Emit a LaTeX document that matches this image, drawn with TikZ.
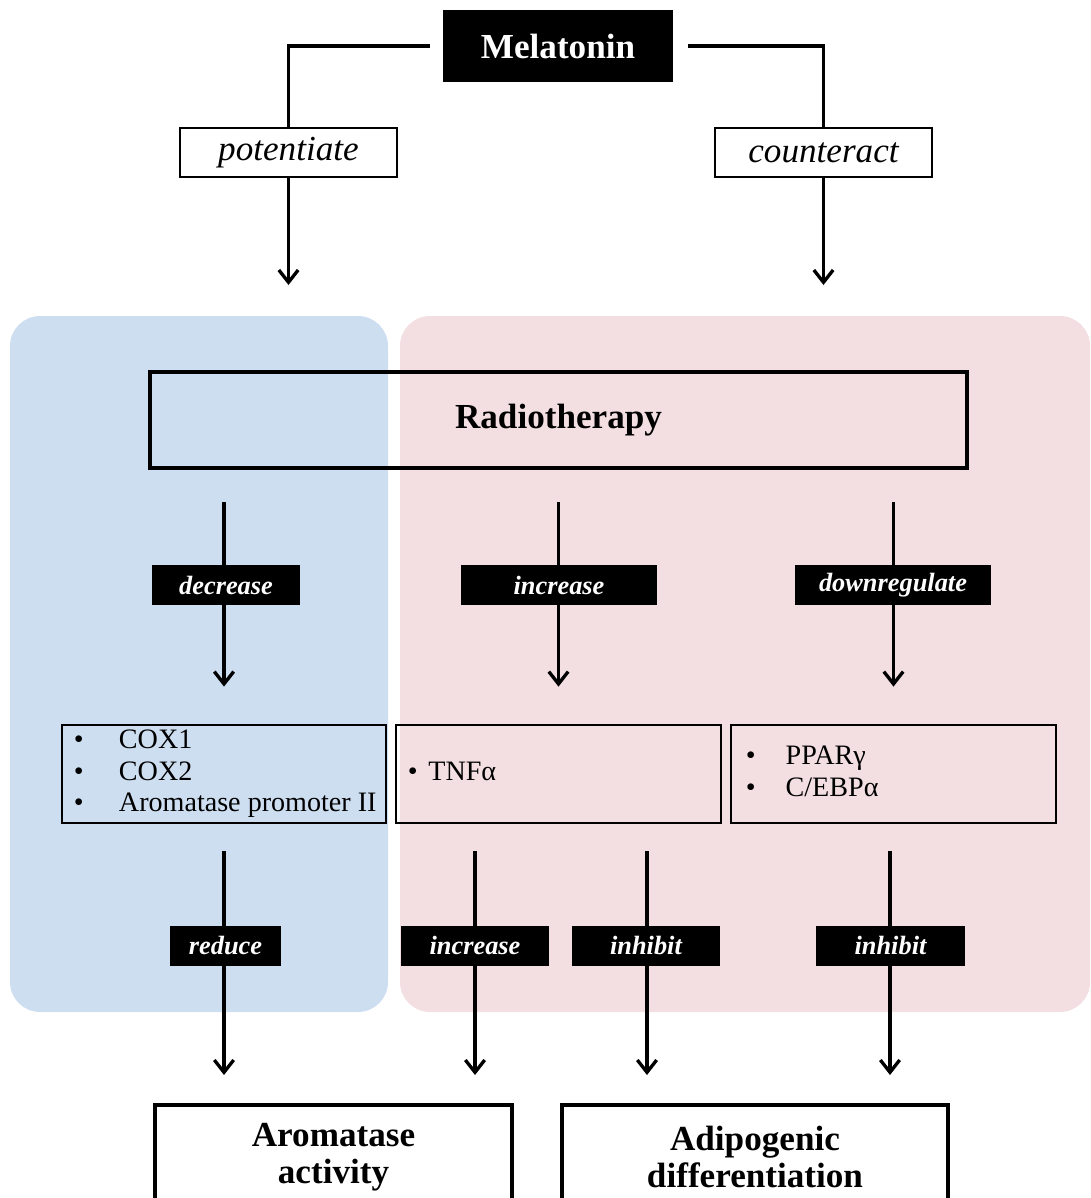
\documentclass[tikz,border=0pt]{standalone}
\usepackage{fontspec}
\setmainfont{Liberation Serif}
\usetikzlibrary{arrows.meta}
\definecolor{bluebg}{RGB}{206,222,241}
\definecolor{pinkbg}{RGB}{243,223,225}
\begin{document}
\begin{tikzpicture}[x=0.02cm, y=-0.02cm,
  arr/.style={line width=1.9pt, -{Straight Barb[length=7pt,width=11pt]}},
  tag/.style={fill=black, text=white, inner sep=0pt, minimum height=0.8cm, font=\fontsize{15}{18}\selectfont\bfseries\itshape},
  lst/.style={draw, line width=1.6pt, minimum height=1.96cm, inner sep=0pt},
  lsttxt/.style={anchor=west, inner sep=0pt, font=\fontsize{16}{18}\selectfont},
  big/.style={font=\fontsize{20}{21}\selectfont\bfseries}]
\useasboundingbox (0,0) rectangle (1090,1198);
% backgrounds
\fill[bluebg, rounded corners=0.6cm] (10,316) rectangle (388,1012);
\fill[pinkbg, rounded corners=0.6cm] (400,316) rectangle (1090,1012);
% top
\node[big, fill=black, text=white, minimum width=4.6cm, minimum height=1.44cm, inner sep=0pt] (mel) at (558,46) {Melatonin};
\node[draw, line width=1.4pt, fill=white, minimum width=4.34cm, minimum height=0.98cm, inner sep=0pt, font=\fontsize{20}{23}\selectfont\itshape] (pot) at (288.5,152.5) {potentiate};
\node[draw, line width=1.4pt, fill=white, minimum width=4.34cm, minimum height=0.98cm, inner sep=0pt, font=\fontsize{20}{23}\selectfont\itshape] (cnt) at (823.5,152.5) {counteract};
\draw[line width=1.9pt] ([xshift=-0.26cm]mel.west) -| (pot.north); \draw[line width=1.9pt] ([xshift=0.3cm]mel.east) -| (cnt.north);
\coordinate (pa) at (288.5,285); \coordinate (ca) at (823.5,285);
\draw[arr] (pot.south) -- (pa); \draw[arr] (cnt.south) -- (ca);
% radiotherapy
\node[draw, line width=2.3pt, big, minimum width=16.34cm, minimum height=1.92cm, inner sep=0pt] (rad) at (558.5,420) {Radiotherapy};
\node[lst, minimum width=6.48cm] (l1) at (224,774) {};
\node[lst, minimum width=6.5cm] (l2) at (558.5,774) {};
\node[lst, minimum width=6.5cm] (l3) at (893.5,774) {};
\node[lsttxt] (t1) at ([xshift=0.26cm]l1.west) {\begin{tabular}{@{}l@{\hspace{20pt}}l@{}}\textbullet & COX1\\ \textbullet & COX2\\ \textbullet & Aromatase promoter II\end{tabular}};
\node[lsttxt] (t2) at ([xshift=0.26cm]l2.west) {\begin{tabular}{@{}l@{\hspace{6pt}}l@{}}\textbullet & TNFα\end{tabular}};
\node[lsttxt] (t3) at ([xshift=0.32cm]l3.west) {\begin{tabular}{@{}l@{\hspace{17pt}}l@{}}\textbullet & PPARγ\\ \textbullet & C/EBPα\end{tabular}};
\draw[arr, shorten <=0.64cm, shorten >=0.74cm] (rad.south -| l1.north) -- (l1.north);
\draw[arr, shorten <=0.64cm, shorten >=0.74cm] (rad.south -| l2.north) -- (l2.north);
\draw[arr, shorten <=0.64cm, shorten >=0.74cm] (rad.south -| l3.north) -- (l3.north);
\node[tag, minimum width=2.96cm] (dec) at (226,585) {decrease};
\node[tag, minimum width=3.92cm] (inc) at (559,585) {increase};
\node[tag, minimum width=3.92cm] (dwn) at (893,585) {downregulate};
% outcomes
\node[draw, line width=2.3pt, big, minimum width=7.14cm, minimum height=2.08cm, align=center, anchor=north] (aro) at (333.5,1103) {Aromatase\\activity};
\node[draw, line width=2.3pt, big, minimum width=7.72cm, minimum height=2.08cm, align=center, anchor=north] (adi) at (755,1103) {Adipogenic\\differentiation};
\coordinate (u1) at (l1.south); \coordinate (u2) at ([xshift=-1.67cm]l2.south); \coordinate (u3) at ([xshift=1.77cm]l2.south); \coordinate (u4) at ([xshift=-0.07cm]l3.south);
\draw[arr, shorten <=0.54cm, shorten >=0.56cm] (u1) -- (u1 |- aro.north);
\draw[arr, shorten <=0.54cm, shorten >=0.56cm] (u2) -- (u2 |- aro.north);
\draw[arr, shorten <=0.54cm, shorten >=0.56cm] (u3) -- (u3 |- adi.north);
\draw[arr, shorten <=0.54cm, shorten >=0.56cm] (u4) -- (u4 |- adi.north);
\node[tag, minimum width=2.22cm] (red) at (225.5,945.5) {reduce};
\node[tag, minimum width=2.96cm] (inc2) at (475,945.5) {increase};
\node[tag, minimum width=2.96cm] (inh1) at (646,945.5) {inhibit};
\node[tag, minimum width=2.98cm] (inh2) at (890.5,945.5) {inhibit};
\end{tikzpicture}
\end{document}
